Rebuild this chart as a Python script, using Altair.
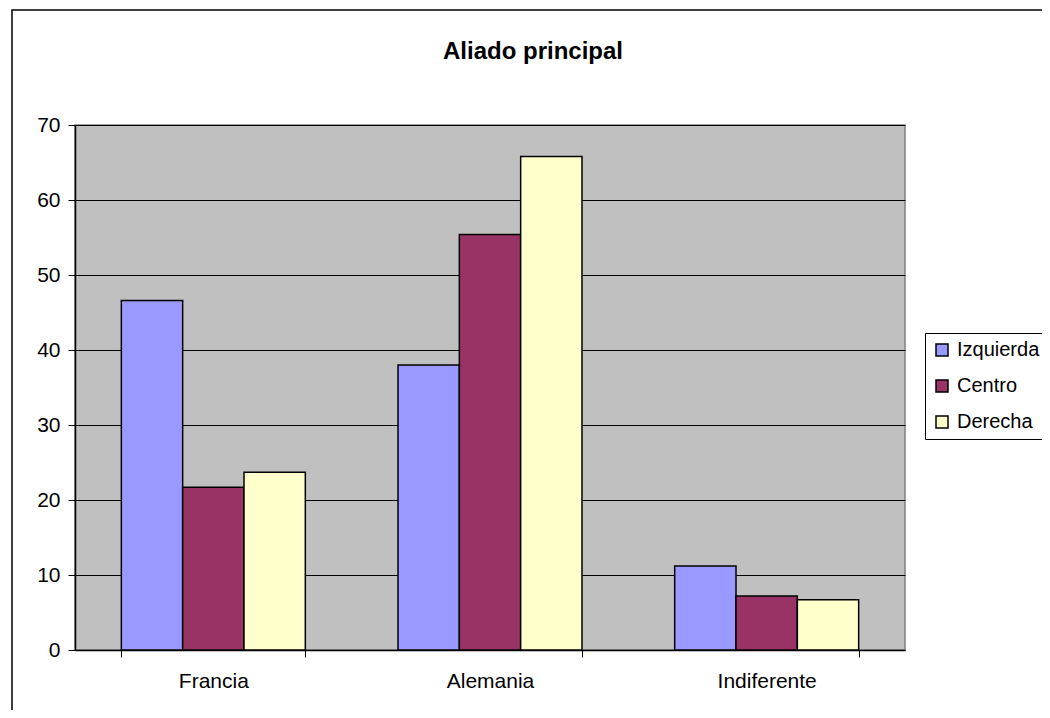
import altair as alt
import pandas as pd

categories = ["Francia", "Alemania", "Indiferente"]
series = ["Izquierda", "Centro", "Derecha"]
izquierda = [46.6, 38.0, 11.2]
centro = [21.7, 55.4, 7.2]
derecha = [23.7, 65.8, 6.7]
colors = ["#9999FF", "#993366", "#FFFFCC"]
y_ticks = [0, 10, 20, 30, 40, 50, 60, 70]

rows = []
for s, vals in zip(series, [izquierda, centro, derecha]):
    for c, v in zip(categories, vals):
        rows.append({"Aliado": c, "Grupo": s, "Valor": v})
df = pd.DataFrame(rows)

FONT = "Liberation Sans"

frame = alt.Chart(pd.DataFrame({"a": [0]})).mark_rect(
    fillOpacity=0, stroke="black", strokeWidth=1.5
).encode(
    x=alt.value(-63), x2=alt.value(1050), y=alt.value(-115), y2=alt.value(720)
)

bars = alt.Chart(df).mark_bar(stroke="black", strokeWidth=1.5).encode(
    x=alt.X(
        "Aliado:N", sort=categories, title=None,
        scale=alt.Scale(paddingInner=0.335, paddingOuter=0.1675),
        axis=alt.Axis(
            labelAngle=0, tickBand="extent", domainColor="black", domainWidth=1.5,
            tickColor="black", tickWidth=1, tickSize=7, labelFontSize=21, labelFont=FONT,
            labelColor="black", labelPadding=13, grid=False,
        ),
    ),
    xOffset=alt.XOffset("Grupo:N", sort=series, scale=alt.Scale(paddingInner=0, paddingOuter=0)),
    y=alt.Y(
        "Valor:Q", title=None, scale=alt.Scale(domain=[0, 70], nice=False),
        axis=alt.Axis(
            values=y_ticks, domainColor="black", domainWidth=1.5, tickColor="black",
            tickSize=7, labelFontSize=21, labelFont=FONT, labelColor="black",
            labelPadding=8, grid=True, gridColor="black", gridWidth=1, gridOpacity=1,
        ),
    ),
    color=alt.Color(
        "Grupo:N", sort=series, scale=alt.Scale(domain=series, range=colors),
        legend=alt.Legend(
            title=None, orient="none", legendX=850, legendY=208,
            strokeColor="black", fillColor="white", padding=7,
            symbolType="square", symbolStrokeColor="black", symbolStrokeWidth=1.5,
            symbolSize=144, labelFontSize=20, labelFont=FONT, labelColor="black",
            rowPadding=16, labelOffset=5,
        ),
    ),
)

chart = alt.layer(frame, bars).properties(
    width=830, height=525,
    title=alt.TitleParams(
        "Aliado principal", fontSize=24, fontWeight="bold", font=FONT,
        anchor="middle", frame="group", dx=43, offset=-55, color="black",
    ),
    padding={"left": 67, "top": 117, "right": 137, "bottom": 60},
    autosize=alt.AutoSizeParams(type="none"),
    background="white",
).configure_view(
    fill="#C0C0C0", stroke="#808080", strokeWidth=1.5
)

chart.save("out.html", embed_options={"renderer": "svg", "actions": False})
